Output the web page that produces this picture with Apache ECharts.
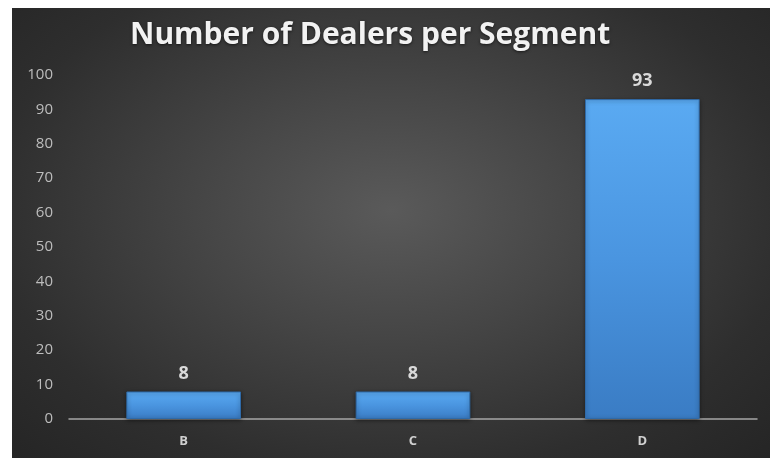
<!DOCTYPE html>
<html>
<head>
<meta charset="utf-8">
<script src="https://cdn.jsdelivr.net/npm/echarts@6/dist/echarts.min.js"></script>
<style>
  html, body { margin: 0; padding: 0; background: #ffffff; width: 770px; height: 458px; overflow: hidden; }
  #chart {
    position: absolute; left: 12px; top: 8px; width: 758px; height: 450px;
    background: radial-gradient(ellipse farthest-corner at 50% 45%, #5a5a5a 0%, #464646 35%, #2e2e2e 75%, #252525 100%);
  }
</style>
</head>
<body>
<div id="chart"></div>
<script>
const titleText = "Number of Dealers per Segment";
const categories = ["B", "C", "D"];
const dealerCounts = [8, 8, 93];
const yTicks = { min: 0, max: 100, interval: 10 };

const chart = echarts.init(document.getElementById('chart'), null, { renderer: 'canvas' });
chart.setOption({
  backgroundColor: 'transparent',
  animation: false,
  title: {
    text: titleText,
    left: 113,
    top: 7,
    textStyle: {
      fontFamily: 'Open Sans',
      fontWeight: 'bold',
      fontSize: 30,
      color: '#f2f2f2',
      textShadowColor: 'rgba(0,0,0,0.6)',
      textShadowBlur: 3,
      textShadowOffsetY: 1
    }
  },
  grid: { left: 57, right: 13, top: 67, bottom: 39, containLabel: false },
  xAxis: {
    type: 'category',
    data: categories,
    axisLine: { show: true, lineStyle: { color: '#a6a6a6', width: 1.5 } },
    axisTick: { show: false },
    axisLabel: {
      margin: 16,
      fontFamily: 'Open Sans',
      fontWeight: 'bold',
      fontSize: 13,
      color: '#d0d0d0'
    }
  },
  yAxis: {
    type: 'value',
    min: yTicks.min,
    max: yTicks.max,
    interval: yTicks.interval,
    axisLine: { show: false },
    axisTick: { show: false },
    splitLine: { show: false },
    axisLabel: {
      margin: 16,
      fontFamily: 'Open Sans',
      fontSize: 15,
      color: '#bdbdbd'
    }
  },
  series: [{
    type: 'bar',
    data: dealerCounts,
    barWidth: '50%',
    itemStyle: {
      color: {
        type: 'linear', x: 0, y: 0, x2: 0, y2: 1,
        colorStops: [
          { offset: 0, color: '#5aaaf2' },
          { offset: 0.5, color: '#4a95e0' },
          { offset: 1, color: '#3a7cc4' }
        ]
      },
      borderColor: '#2f6aa8',
      borderWidth: 1,
      shadowColor: 'rgba(0,0,0,0.45)',
      shadowBlur: 4,
      shadowOffsetY: 1
    },
    label: {
      show: true,
      position: 'top',
      distance: 9,
      fontFamily: 'Open Sans',
      fontWeight: 'bold',
      fontSize: 18,
      color: '#d9d9d9'
    }
  }]
});
</script>
</body>
</html>
